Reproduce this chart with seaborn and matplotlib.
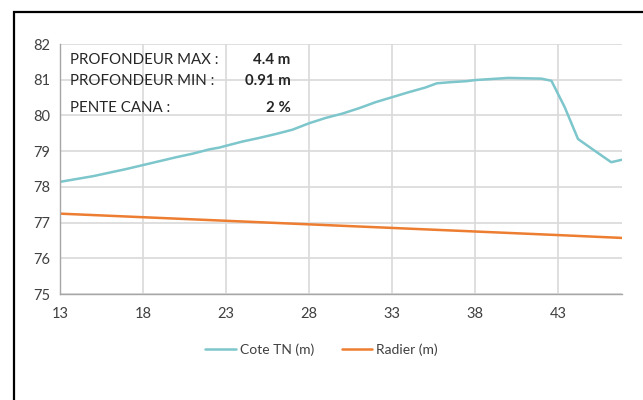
import matplotlib
matplotlib.use("Agg")
import matplotlib.pyplot as plt
import seaborn as sns
from matplotlib.patches import Rectangle

# Données
dist_tn = [13, 14, 15, 16, 17, 18, 19, 20, 21, 22, 22.6, 23, 24, 25, 26, 27, 28,
           29, 30, 31, 32, 33, 34, 35, 35.7, 36.5, 37.5, 38, 39, 40, 41, 42,
           42.6, 43.4, 44.2, 44.9, 46.2, 46.85]
cote_tn = [78.14, 78.22, 78.30, 78.40, 78.50, 78.61, 78.72, 78.83, 78.93, 79.05, 79.10,
           79.15, 79.27, 79.37, 79.48, 79.60, 79.78, 79.93, 80.05, 80.20, 80.37, 80.51,
           80.65, 80.78, 80.90, 80.93, 80.96, 80.99, 81.02, 81.05, 81.04, 81.03,
           80.97, 80.23, 79.34, 79.11, 78.69, 78.76]

dist_radier = [13, 18, 23, 28, 33, 38, 43, 46.85]
radier = [77.25, 77.15, 77.05, 76.95, 76.85, 76.75, 76.65, 76.57]

x_ticks = [13, 18, 23, 28, 33, 38, 43]
y_ticks = [75, 76, 77, 78, 79, 80, 81, 82]

labels_info = ["PROFONDEUR MAX :", "PROFONDEUR MIN :", "PENTE CANA :"]
values_info = ["4.4 m", "0.91 m", "2 %"]

sns.set_style("white")
plt.rcParams['font.family'] = ['Lato', 'DejaVu Sans']

fig = plt.figure(figsize=(6.43, 4.0), dpi=100)
ax = fig.add_axes([60 / 643, 1 - 294 / 400, 562 / 643, 250 / 400])

sns.lineplot(x=dist_tn, y=cote_tn, ax=ax, color="#7CC6CC", linewidth=1.8, label="Cote TN (m)")
sns.lineplot(x=dist_radier, y=radier, ax=ax, color="#ED7D31", linewidth=1.8, label="Radier (m)")

ax.set_xlim(13, 46.85)
ax.set_ylim(75, 82)
ax.set_xticks(x_ticks)
ax.set_yticks(y_ticks)
ax.grid(True, color="#D9D9D9", linewidth=1.2)
ax.set_axisbelow(True)
for s in ["top", "right"]:
    ax.spines[s].set_visible(False)
for s in ["left", "bottom"]:
    ax.spines[s].set_color("#A6A6A6")
    ax.spines[s].set_linewidth(1.0)
ax.tick_params(axis="both", colors="#A6A6A6", labelcolor="#404040", labelsize=10.5,
               length=4, width=1, direction="out")
ax.tick_params(axis="x", pad=5)
ax.tick_params(axis="y", pad=3)

# Encadré d'informations
ys = [0.936, 0.852, 0.746]
for lab, val, yy in zip(labels_info, values_info, ys):
    ax.text(0.018, yy, lab, transform=ax.transAxes, fontsize=10.8, color="#262626", va="center")
    ax.text(0.41, yy, val, transform=ax.transAxes, fontsize=10.8, color="#262626",
            va="center", ha="right", fontweight="bold")

ax.get_legend().remove()
handles, labs = ax.get_legend_handles_labels()
fig.legend(handles, labs, loc="center", bbox_to_anchor=(0.5, 1 - 350 / 400), ncol=2,
           frameon=False, fontsize=10, handlelength=2.2, handletextpad=0.3, columnspacing=2.0,
           labelcolor="#404040")

# Cadre noir
fig.add_artist(Rectangle((13.5 / 643, -0.1), 1.2, 1.1 - 12.5 / 400, transform=fig.transFigure,
                         fill=False, edgecolor="black", linewidth=1.6))

fig.savefig("out.png", dpi=100)
